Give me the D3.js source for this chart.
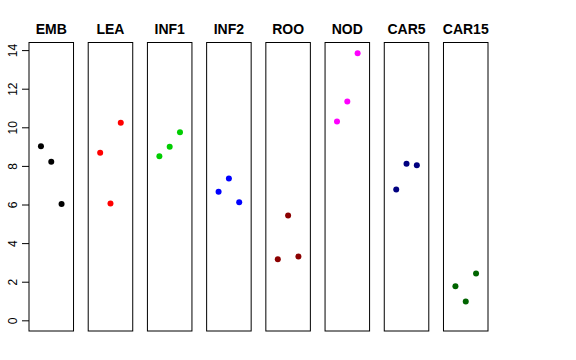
<!DOCTYPE html>
<html>
<head>
<meta charset="utf-8">
<script src="https://cdn.jsdelivr.net/npm/d3@7"></script>
<style>
  html, body { margin: 0; padding: 0; background: #fff; }
  svg { display: block; font-family: "Liberation Sans", Arial, Helvetica, sans-serif; }
</style>
</head>
<body>
<svg id="chart" width="576" height="360"></svg>
<script>
const categories = ["EMB", "LEA", "INF1", "INF2", "ROO", "NOD", "CAR5", "CAR15"];
const colors = ["#000000", "#FF0000", "#00CD00", "#0000FF", "#8B0000", "#FF00FF", "#000080", "#006400"];
const valuesEMB   = [9.02, 8.21, 6.03];
const valuesLEA   = [8.68, 6.05, 10.23];
const valuesINF1  = [8.50, 8.99, 9.75];
const valuesINF2  = [6.66, 7.35, 6.12];
const valuesROO   = [3.16, 5.43, 3.30];
const valuesNOD   = [10.30, 11.34, 13.84];
const valuesCAR5  = [6.78, 8.11, 8.04];
const valuesCAR15 = [1.76, 0.97, 2.42];
const yTicks = [0, 2, 4, 6, 8, 10, 12, 14];
const replicates = [1, 2, 3];

const series = [valuesEMB, valuesLEA, valuesINF1, valuesINF2, valuesROO, valuesNOD, valuesCAR5, valuesCAR15];

const svg = d3.select("#chart");

const panelTop = 42.5, panelBottom = 331;
const yMax = d3.max(series.flat());
const yPad = (yMax - 0) * 0.04;
const y = d3.scaleLinear().domain([0 - yPad, yMax + yPad]).range([panelBottom, panelTop]);

const band = d3.scaleBand().domain(categories).range([29, 488]).paddingInner(0.248).paddingOuter(0);

categories.forEach((cat, i) => {
  const left = band(cat);
  const w = band.bandwidth();
  const x = d3.scaleLinear().domain([0 - 0.16, 4 + 0.16]).range([left, left + w]);
  const g = svg.append("g");
  g.append("rect")
    .attr("x", left).attr("y", panelTop)
    .attr("width", w).attr("height", panelBottom - panelTop)
    .attr("fill", "none").attr("stroke", "#000").attr("stroke-width", 1);
  g.append("text")
    .attr("x", left + w / 2).attr("y", 34)
    .attr("text-anchor", "middle")
    .attr("font-weight", "bold").attr("font-size", 14)
    .text(cat);
  g.selectAll("circle")
    .data(series[i])
    .join("circle")
    .attr("cx", (d, j) => x(replicates[j]))
    .attr("cy", d => y(d))
    .attr("r", 3)
    .attr("fill", colors[i]);
});

// y axis on the first panel
const axisG = svg.append("g").attr("transform", `translate(${band(categories[0])},0)`);
const axis = d3.axisLeft(y).tickValues(yTicks).tickSize(7).tickPadding(4).tickFormat(d3.format("d"));
axisG.call(axis);
axisG.select(".domain").remove();
axisG.selectAll(".tick line").attr("stroke", "#000");
axisG.selectAll(".tick text")
  .attr("font-size", 12)
  .attr("font-family", "Liberation Sans, Arial, sans-serif")
  .attr("fill", "#000")
  .attr("text-anchor", "middle")
  .attr("dy", null)
  .attr("x", null)
  .attr("transform", "translate(-16,0) rotate(-90)")
  .attr("dy", "0.35em");
</script>
</body>
</html>
